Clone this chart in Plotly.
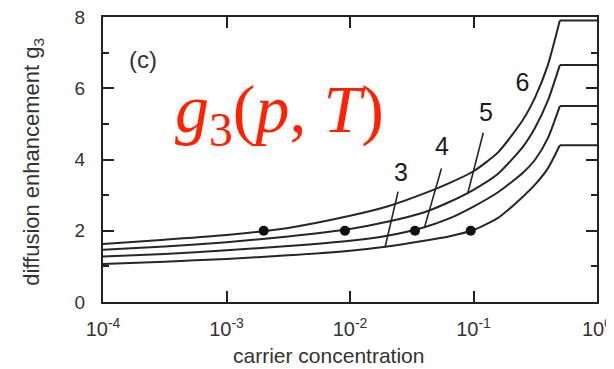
import plotly.graph_objects as go

# carrier concentration grid (read at these positions)
p_grid = [1e-4, 3.16e-4, 1e-3, 3.16e-3, 1e-2, 0.02, 0.04, 0.063, 0.1, 0.158, 0.25, 0.316, 0.4, 0.5]
p_flat = [0.5, 1.0]

curve_labels = ["6", "5", "4", "3"]
g_curve6 = [1.63, 1.75, 1.88, 2.08, 2.42, 2.68, 3.05, 3.33, 3.67, 4.20, 5.10, 5.75, 6.65, 7.90]
g_curve5 = [1.47, 1.56, 1.68, 1.84, 2.05, 2.25, 2.52, 2.80, 3.15, 3.60, 4.35, 4.90, 5.65, 6.65]
g_curve4 = [1.28, 1.35, 1.45, 1.57, 1.72, 1.86, 2.10, 2.34, 2.68, 3.08, 3.62, 4.00, 4.60, 5.50]
g_curve3 = [1.07, 1.13, 1.21, 1.31, 1.44, 1.56, 1.72, 1.84, 2.02, 2.36, 2.95, 3.30, 3.75, 4.40]
g_plateau = [7.90, 6.65, 5.50, 4.40]

# marked points (g = 2)
dot_p = [0.002, 0.0091, 0.0336, 0.095]
dot_g = [2.0, 2.0, 2.0, 2.0]

# leader lines for the curve labels 3, 4, 5
leader3_p = [0.0245, 0.0192]
leader3_g = [3.10, 1.53]
leader4_p = [0.055, 0.040]
leader4_g = [3.75, 2.08]
leader5_p = [0.120, 0.090]
leader5_g = [4.75, 3.06]

label_p = [0.249, 0.126, 0.0556, 0.0259]
label_g = [6.10, 5.25, 4.31, 3.56]

x_tickvals = [1e-4, 1e-3, 1e-2, 1e-1, 1]
x_ticktext = ["10<sup>-4</sup>", "10<sup>-3</sup>", "10<sup>-2</sup>", "10<sup>-1</sup>", "10<sup>0</sup>"]
y_tickvals = [0, 2, 4, 6, 8]

LINE = "#262626"
fig = go.Figure()

for g in [g_curve6, g_curve5, g_curve4, g_curve3]:
    fig.add_trace(go.Scatter(x=p_grid, y=g, mode="lines",
                             line=dict(color=LINE, width=2, shape="spline", smoothing=0.6),
                             showlegend=False, hoverinfo="skip"))
for gp in g_plateau:
    fig.add_trace(go.Scatter(x=p_flat, y=[gp, gp], mode="lines",
                             line=dict(color=LINE, width=2),
                             showlegend=False, hoverinfo="skip"))

for lp, lg in [(leader3_p, leader3_g), (leader4_p, leader4_g), (leader5_p, leader5_g)]:
    fig.add_trace(go.Scatter(x=lp, y=lg, mode="lines",
                             line=dict(color=LINE, width=1.6),
                             showlegend=False, hoverinfo="skip"))

fig.add_trace(go.Scatter(x=dot_p, y=dot_g, mode="markers",
                         marker=dict(color="#111", size=10),
                         showlegend=False, hoverinfo="skip"))

fig.add_trace(go.Scatter(x=label_p, y=label_g, mode="text", text=curve_labels,
                         textfont=dict(family="Liberation Sans, Arial", size=25, color="#1a1a1a"),
                         showlegend=False, hoverinfo="skip"))

# plot area geometry (page pixels; the page body adds an 8 px offset)
W, H = 606, 361
L, R, T, B = 95, 17, 9, 67
pw, ph = W - L - R, H - T - B

fig.add_annotation(x=0.081, y=0.85, xref="paper", yref="paper", text="(c)", showarrow=False,
                   xanchor="center", yanchor="middle",
                   font=dict(family="Liberation Sans, Arial", size=24, color="#333"))
fig.add_annotation(x=0.358, y=0.662, xref="paper", yref="paper",
                   text="<i>g</i><sub>3</sub>(<i>p</i>, <i>T</i>)", showarrow=False,
                   xanchor="center", yanchor="middle",
                   font=dict(family="Liberation Serif, Times New Roman, serif", size=68, color="#ff2200"))
fig.add_annotation(x=(328 - 103) / pw, y=-(355 - 301.7) / ph, xref="paper", yref="paper",
                   text="carrier concentration", showarrow=False, xanchor="center", yanchor="middle",
                   font=dict(family="Liberation Sans, Arial", size=21, color="#333"))
fig.add_annotation(x=-(103 - 33) / pw, y=(301.7 - 161.5) / ph, xref="paper", yref="paper",
                   text="diffusion enhancement g<sub>3</sub>", showarrow=False, textangle=-90,
                   xanchor="center", yanchor="middle",
                   font=dict(family="Liberation Sans, Arial", size=22, color="#333"))

x_font = dict(family="Liberation Sans, Arial", size=20, color="#333")
y_font = dict(family="Liberation Sans, Arial", size=19, color="#333")
fig.update_xaxes(type="log", range=[-4, 0], tickvals=x_tickvals, ticktext=x_ticktext,
                 ticks="inside", ticklen=11, tickwidth=2, tickcolor="#222",
                 showline=True, linecolor="#222", linewidth=2, mirror="ticks",
                 showgrid=False, zeroline=False, tickfont=x_font, ticklabelstandoff=8,
                 ticklabeloverflow="allow", automargin=False)
fig.update_yaxes(range=[0, 8], tickvals=y_tickvals,
                 ticks="inside", ticklen=11, tickwidth=2, tickcolor="#222",
                 minor=dict(dtick=1, ticks="inside", ticklen=6, tickwidth=2, tickcolor="#222"),
                 showline=True, linecolor="#222", linewidth=2, mirror="ticks",
                 showgrid=False, zeroline=False, tickfont=y_font, ticklabelstandoff=12,
                 ticklabeloverflow="allow", automargin=False)

fig.update_layout(width=W, height=H, margin=dict(l=L, r=R, t=T, b=B),
                  paper_bgcolor="white", plot_bgcolor="white")

fig.write_html("out.html")
